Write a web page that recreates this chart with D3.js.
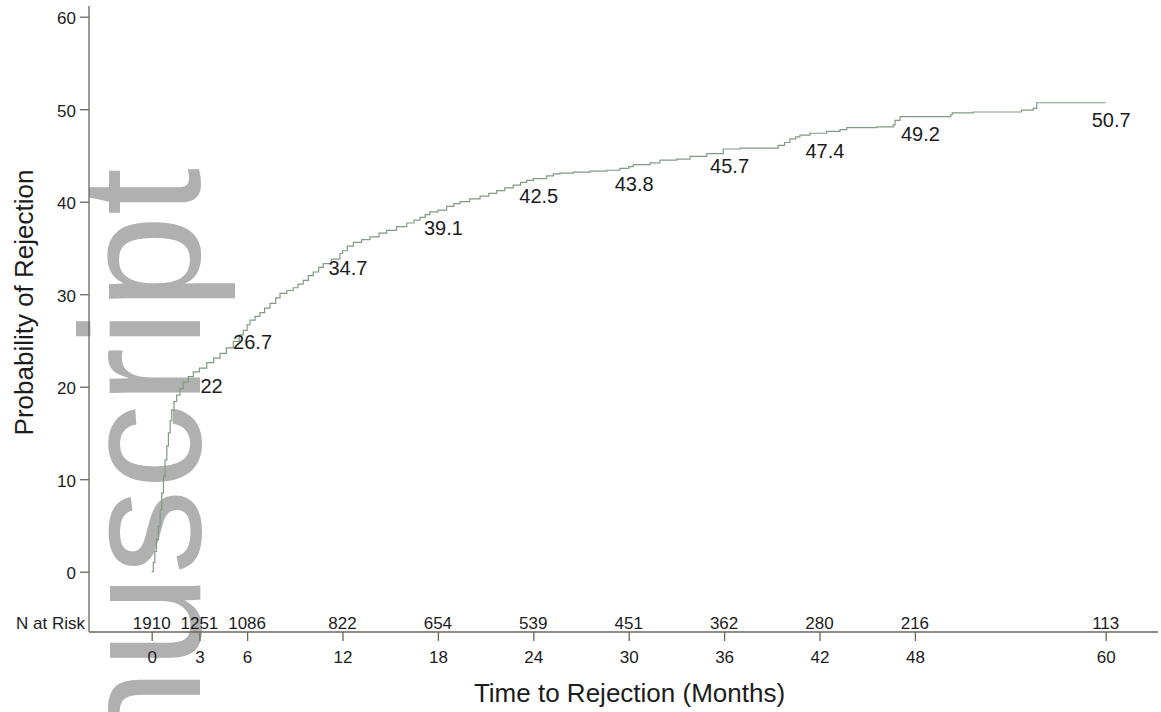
<!DOCTYPE html>
<html>
<head>
<meta charset="utf-8">
<script src="https://cdn.jsdelivr.net/npm/d3@7"></script>
<style>
  body { margin: 0; background: #fff; }
  svg { display: block; }
  text { font-family: "Liberation Sans", Arial, Helvetica, sans-serif; }
</style>
</head>
<body>
<svg id="chart" width="1161" height="712"></svg>
<script>
// Cumulative probability of rejection (%), step function over months since transplant
const months = [
  0, 0.1, 0.2, 0.3, 0.42, 0.53, 0.63, 0.74, 0.84, 0.95, 1.05, 1.16, 1.26, 1.4, 1.57,
  1.78, 1.99, 2.3, 2.62, 3.0, 3.46, 3.9, 4.3, 4.7, 5.13, 5.5, 5.76, 6.0, 6.18, 6.5,
  6.81, 7.1, 7.44, 7.8, 8.07, 8.5, 8.9, 9.2, 9.53, 9.85, 10.16, 10.5, 10.79, 11.3,
  11.84, 12.0, 12.3, 12.68, 13.2, 13.73, 14.3, 14.78, 15.4, 16.04, 16.5, 16.87, 17.2,
  17.5, 18.0, 18.55, 19.0, 19.39, 20.0, 20.65, 21.2, 21.7, 22.2, 22.74, 23.2, 23.58,
  24.0, 24.84, 25.26, 25.68, 26.52, 27.57, 28.62, 29.45, 30.0, 30.29, 31.34, 31.97,
  33.02, 33.86, 34.91, 35.95, 37.0, 39.4, 39.8, 40.14, 40.5, 40.77, 41.4, 42.45,
  43.29, 43.71, 45.6, 46.64, 46.75, 47.07, 50.25, 50.35, 51.67, 54.7, 55.45, 55.66, 60
];
const rejection = [
  0, 1.0, 2.2, 3.5, 4.9, 6.7, 8.5, 10.3, 12.1, 13.6, 15.0, 16.3, 17.5, 18.4, 19.1,
  19.8, 20.5, 21.1, 21.6, 22.0, 22.6, 23.1, 23.6, 24.2, 24.9, 25.6, 26.1, 26.7, 27.2, 27.6,
  28.0, 28.5, 29.0, 29.6, 30.1, 30.4, 30.7, 31.1, 31.5, 32.0, 32.4, 32.9, 33.3, 33.8,
  34.4, 34.7, 35.2, 35.6, 35.9, 36.2, 36.6, 36.9, 37.3, 37.7, 38.0, 38.3, 38.6,
  38.9, 39.1, 39.5, 39.8, 40.0, 40.3, 40.6, 40.9, 41.2, 41.5, 41.8, 42.1, 42.3,
  42.5, 42.8, 43.0, 43.1, 43.2, 43.3, 43.4, 43.6, 43.8, 44.0, 44.2, 44.5,
  44.6, 44.9, 45.2, 45.7, 45.8, 46.1, 46.4, 46.8, 47.0, 47.2, 47.4, 47.6,
  47.8, 48.0, 48.1, 48.3, 48.8, 49.2, 49.4, 49.6, 49.7, 49.9, 50.1, 50.7, 50.7
];

// Axis ticks and the number-at-risk table
const tickMonths = [0, 3, 6, 12, 18, 24, 30, 36, 42, 48, 60];
const atRisk = [1910, 1251, 1086, 822, 654, 539, 451, 362, 280, 216, 113];
const yTicks = [0, 10, 20, 30, 40, 50, 60];

// Values printed along the curve
const labelMonths = [3, 6, 12, 18, 24, 30, 36, 42, 48, 60];
const labelValues = [22, 26.7, 34.7, 39.1, 42.5, 43.8, 45.7, 47.4, 49.2, 50.7];

const svg = d3.select("#chart");
const axisColor = "#6b665e";
const textColor = "#1c1c1c";

const x = d3.scaleLinear().domain([0, 60]).range([151.7, 1105.7]);
const y = d3.scaleLinear().domain([0, 60]).range([571.7, 16.7]);

const axisLeftX = 89;
const axisBottomY = 632;

// Vertical watermark text behind the plot
svg.append("text")
  .attr("transform", "translate(200,168) rotate(-90)")
  .attr("text-anchor", "end")
  .attr("font-size", 170)
  .attr("fill", "#b0b0b0")
  .text("Author Manuscript");

// Y axis
const gy = svg.append("g")
  .attr("transform", `translate(${axisLeftX},0)`)
  .call(d3.axisLeft(y).tickValues(yTicks).tickSize(9).tickSizeOuter(0).tickPadding(4));
gy.select(".domain").remove();
gy.selectAll(".tick line").attr("stroke", axisColor).attr("stroke-width", 1.3);
gy.selectAll(".tick text")
  .attr("font-size", 17).attr("fill", textColor)
  .attr("font-family", null).attr("dy", "0.41em");
svg.append("line")
  .attr("x1", axisLeftX).attr("x2", axisLeftX)
  .attr("y1", 6).attr("y2", axisBottomY)
  .attr("stroke", axisColor).attr("stroke-width", 1.3);

// X axis
const gx = svg.append("g")
  .attr("transform", `translate(0,${axisBottomY})`)
  .call(d3.axisBottom(x).tickValues(tickMonths).tickSize(9).tickSizeOuter(0).tickPadding(10));
gx.select(".domain").remove();
gx.selectAll(".tick line").attr("stroke", axisColor).attr("stroke-width", 1.3);
gx.selectAll(".tick text")
  .attr("font-size", 17).attr("fill", textColor)
  .attr("font-family", null).attr("dy", "0.71em");
svg.append("line")
  .attr("x1", axisLeftX).attr("x2", 1158)
  .attr("y1", axisBottomY).attr("y2", axisBottomY)
  .attr("stroke", axisColor).attr("stroke-width", 1.3);

// Number at risk row
svg.append("text")
  .attr("x", 85).attr("y", 629)
  .attr("text-anchor", "end")
  .attr("font-size", 17).attr("fill", textColor)
  .text("N at Risk");
svg.append("g").selectAll("text")
  .data(tickMonths)
  .join("text")
  .attr("x", d => x(d)).attr("y", 629)
  .attr("text-anchor", "middle")
  .attr("font-size", 17).attr("fill", textColor)
  .text((d, i) => atRisk[i]);

// Axis titles
svg.append("text")
  .attr("x", 629.5).attr("y", 702)
  .attr("text-anchor", "middle")
  .attr("font-size", 26).attr("fill", textColor)
  .text("Time to Rejection (Months)");
svg.append("text")
  .attr("transform", "translate(33,302.5) rotate(-90)")
  .attr("text-anchor", "middle")
  .attr("font-size", 26).attr("fill", textColor)
  .text("Probability of Rejection");

// Rejection curve
const series = months.map((m, i) => ({ m, v: rejection[i] }));
svg.append("path")
  .datum(series)
  .attr("fill", "none")
  .attr("stroke", "#7f9c80")
  .attr("stroke-width", 1.2)
  .attr("d", d3.line().x(d => x(d.m)).y(d => y(d.v)).curve(d3.curveStepAfter));

// Value labels under the curve
svg.append("g").selectAll("text")
  .data(labelMonths)
  .join("text")
  .attr("x", d => x(d) + (d === 3 ? 1 : -14))
  .attr("y", (d, i) => y(labelValues[i]) + 24.5)
  .attr("font-size", 20).attr("fill", textColor)
  .text((d, i) => labelValues[i]);
</script>
</body>
</html>
